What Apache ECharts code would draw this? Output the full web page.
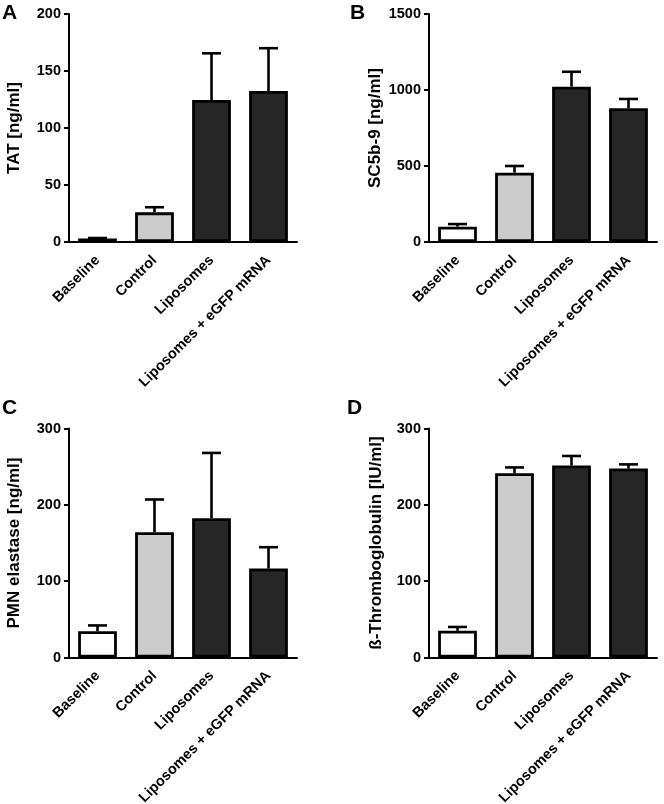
<!DOCTYPE html>
<html>
<head>
<meta charset="utf-8">
<script src="https://cdn.jsdelivr.net/npm/echarts@6/dist/echarts.min.js"></script>
<style>
html,body{margin:0;padding:0;background:#fff;}
#chart{width:664px;height:804px;}
</style>
</head>
<body>
<div id="chart"></div>
<script>
const categories = ['Baseline', 'Control', 'Liposomes', 'Liposomes + eGFP mRNA'];

const tatMean = [3, 26, 124.5, 132.5];
const tatErrTop = [3.5, 30.5, 165.5, 170];
const tatTicks = [0, 50, 100, 150, 200];

const sc5b9Mean = [101, 456, 1022, 880];
const sc5b9ErrTop = [118, 500, 1120, 941];
const sc5b9Ticks = [0, 500, 1000, 1500];

const pmnMean = [34.5, 164, 182.5, 116.5];
const pmnErrTop = [42, 207, 268, 144.5];
const pmnTicks = [0, 100, 200, 300];

const btgMean = [35, 241.5, 251.5, 247.5];
const btgErrTop = [40, 249, 264, 253];
const btgTicks = [0, 100, 200, 300];

const panelLetters = ['A', 'B', 'C', 'D'];
const yNames = ['TAT [ng/ml]', 'SC5b-9 [ng/ml]', 'PMN elastase [ng/ml]', 'ß-Thromboglobulin [IU/ml]'];

const barFills = ['#ffffff', '#cccccc', '#262626', '#262626'];
const FONT = '"Liberation Sans", Arial, sans-serif';

const panels = [
  {mean: tatMean, err: tatErrTop, ticks: tatTicks},
  {mean: sc5b9Mean, err: sc5b9ErrTop, ticks: sc5b9Ticks},
  {mean: pmnMean, err: pmnErrTop, ticks: pmnTicks},
  {mean: btgMean, err: btgErrTop, ticks: btgTicks}
];

const gridPos = [
  {left: 69, top: 14, width: 228, height: 228},
  {left: 429, top: 14, width: 228, height: 228},
  {left: 69, top: 428.5, width: 228, height: 229},
  {left: 429, top: 428.5, width: 228, height: 229}
];
const letterPos = [
  {left: 2, top: 3},
  {left: 350, top: 3},
  {left: 2, top: 398},
  {left: 347, top: 398}
];
const nameGaps = [46, 45, 46, 44];

const grid = [], xAxis = [], yAxis = [], series = [], title = [];

panels.forEach((p, i) => {
  grid.push(Object.assign({containLabel: false, outerBoundsMode: 'none'}, gridPos[i]));
  title.push({
    text: panelLetters[i], left: letterPos[i].left, top: letterPos[i].top, padding: 0,
    textStyle: {fontFamily: FONT, fontWeight: 'bold', fontSize: 21, color: '#000'}
  });
  xAxis.push({
    type: 'category', gridIndex: i, data: categories,
    axisLine: {lineStyle: {color: '#000', width: 2}},
    axisTick: {show: false},
    axisLabel: {
      rotate: 45, interval: 0, margin: 16, color: '#000',
      fontFamily: FONT, fontWeight: 'bold', fontSize: 14.5
    }
  });
  const t = p.ticks;
  yAxis.push({
    type: 'value', gridIndex: i,
    min: t[0], max: t[t.length - 1], interval: t[1] - t[0],
    name: yNames[i], nameLocation: 'middle', nameGap: nameGaps[i], nameRotate: 90,
    nameTextStyle: {fontFamily: FONT, fontWeight: 'bold', fontSize: 17, color: '#000'},
    axisLine: {show: true, lineStyle: {color: '#000', width: 2}},
    axisTick: {show: true, length: 5, lineStyle: {color: '#000', width: 2}},
    splitLine: {show: false},
    axisLabel: {
      margin: 8, color: '#000', fontFamily: FONT, fontWeight: 'bold', fontSize: 14.5,
      formatter: v => String(v)
    }
  });
  series.push({
    type: 'bar', xAxisIndex: i, yAxisIndex: i,
    barCategoryGap: '32%',
    data: p.mean.map((v, k) => ({
      value: v,
      itemStyle: {color: barFills[k], borderColor: '#000', borderWidth: 2.8}
    })),
    z: 2
  });
  series.push({
    type: 'custom', xAxisIndex: i, yAxisIndex: i, z: 3,
    data: p.mean.map((v, k) => [k, v, p.err[k]]),
    encode: {x: 0, y: [1, 2]},
    renderItem: function (params, api) {
      const x = api.value(0);
      const p1 = api.coord([x, api.value(1)]);
      const p2 = api.coord([x, api.value(2)]);
      const hw = 9.5;
      const st = {stroke: '#000', lineWidth: 2.6};
      return {
        type: 'group',
        children: [
          {type: 'line', shape: {x1: p1[0], y1: p1[1], x2: p2[0], y2: p2[1]}, style: st},
          {type: 'line', shape: {x1: p2[0] - hw, y1: p2[1], x2: p2[0] + hw, y2: p2[1]}, style: st}
        ]
      };
    }
  });
});

const chart = echarts.init(document.getElementById('chart'), null, {renderer: 'canvas'});
chart.setOption({
  backgroundColor: '#ffffff',
  animation: false,
  title: title,
  grid: grid,
  xAxis: xAxis,
  yAxis: yAxis,
  series: series
});
</script>
</body>
</html>
